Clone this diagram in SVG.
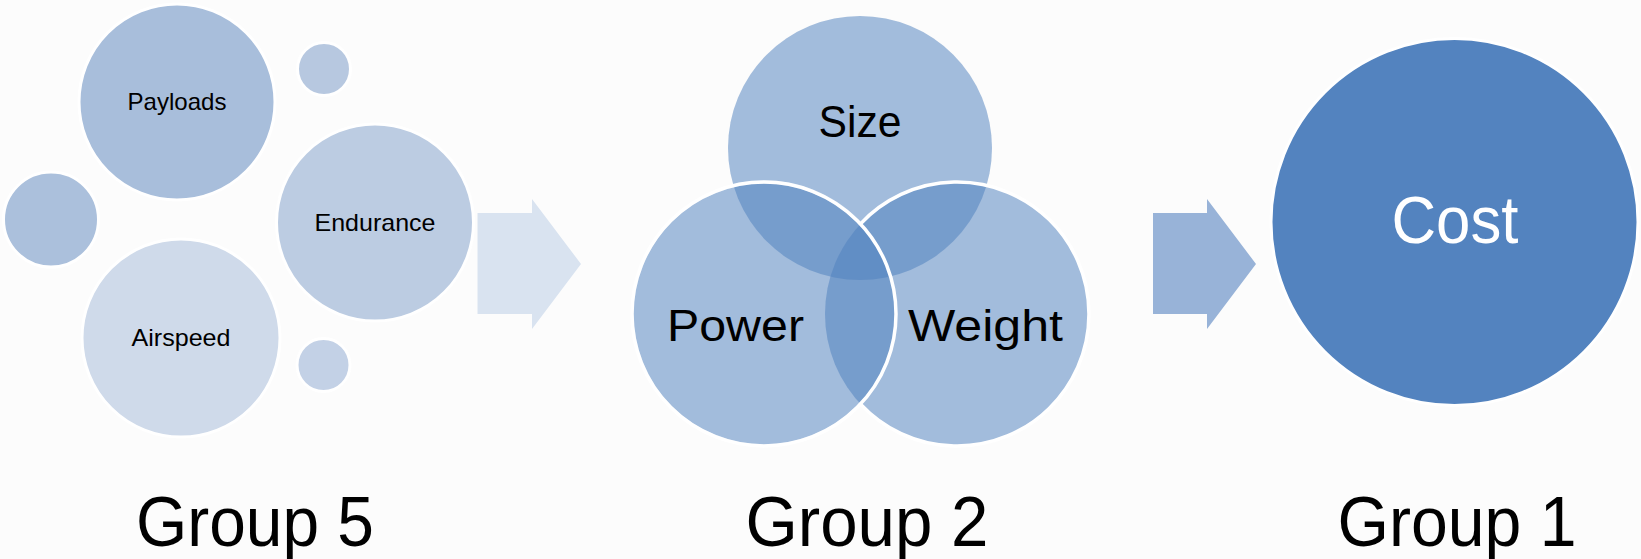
<svg xmlns="http://www.w3.org/2000/svg" width="1641" height="559" viewBox="0 0 1641 559">
  <style>
    .lbl { font-family: "Liberation Sans", Arial, sans-serif; fill: #000; text-anchor: middle; }
    .small { font-size: 24px; }
    .venn { font-size: 45px; }
    .grp { font-size: 71px; }
    .cost { font-family: "Liberation Sans", Arial, sans-serif; font-size: 66px; fill: #fff; text-anchor: middle; }
    .bub { stroke: #fff; stroke-width: 3; }
    .vfill { fill: #4f81bd; fill-opacity: 0.52; }
    .wline { fill: none; stroke: #fff; stroke-width: 3.5; }
  </style>
  <rect width="1641" height="559" fill="#fcfcfc"/>

  <g id="group5">
    <g id="node-payloads">
      <circle class="bub" cx="177" cy="102" r="98" fill="#a8bedb"/>
      <text class="lbl small" x="177" y="110" textLength="99" lengthAdjust="spacingAndGlyphs">Payloads</text>
    </g>
    <g id="node-small-top">
      <circle class="bub" cx="324" cy="69" r="26.5" fill="#b7c8e0"/>
    </g>
    <g id="node-small-left">
      <circle class="bub" cx="51" cy="219.5" r="47.5" fill="#abc0dc"/>
    </g>
    <g id="node-endurance">
      <circle class="bub" cx="375" cy="222.5" r="98.5" fill="#bccce2"/>
      <text class="lbl small" x="375" y="231" textLength="121" lengthAdjust="spacingAndGlyphs">Endurance</text>
    </g>
    <g id="node-airspeed">
      <circle class="bub" cx="181" cy="338" r="99" fill="#cfdaea"/>
      <text class="lbl small" x="181" y="346" textLength="99" lengthAdjust="spacingAndGlyphs">Airspeed</text>
    </g>
    <g id="node-small-bottom">
      <circle class="bub" cx="323.5" cy="365" r="26.5" fill="#c3d1e6"/>
    </g>
  </g>

  <g id="group2">
    <g id="node-size">
      <circle class="vfill" cx="860" cy="148" r="132"/>
    </g>
    <g id="node-weight">
      <circle class="vfill" cx="957" cy="314" r="132"/>
    </g>
    <g id="node-power">
      <circle class="vfill" cx="764" cy="314" r="132"/>
    </g>
    <path class="wline" d="M 860.5 223.9 A 132 132 0 1 0 860.5 404.1" stroke-opacity="0.25"/>
    <path class="wline" d="M 860.5 223.9 A 132 132 0 1 1 860.5 404.1"/>
    <circle class="wline" cx="764" cy="314" r="132"/>
    <text class="lbl venn" x="860" y="137" textLength="83" lengthAdjust="spacingAndGlyphs">Size</text>
    <text class="lbl venn" x="735.5" y="341" textLength="137" lengthAdjust="spacingAndGlyphs">Power</text>
    <text class="lbl venn" x="985.5" y="341" textLength="155" lengthAdjust="spacingAndGlyphs">Weight</text>
  </g>

  <g id="group1">
    <g id="node-cost">
      <circle class="bub" cx="1454.5" cy="222" r="183.5" fill="#5383bf"/>
      <text class="cost" x="1455" y="243" textLength="127" lengthAdjust="spacingAndGlyphs">Cost</text>
    </g>
  </g>

  <g id="connectors">
    <polygon points="477.5,213 532,213 532,199 581,264 532,329 532,314 477.5,314" fill="#d9e3f0"/>
    <polygon points="1153,213 1207,213 1207,199 1256,264 1207,329 1207,314 1153,314" fill="#98b3d8"/>
  </g>

  <g id="captions">
    <text class="lbl grp" x="255" y="546" textLength="238" lengthAdjust="spacingAndGlyphs">Group 5</text>
    <text class="lbl grp" x="867" y="546" textLength="243" lengthAdjust="spacingAndGlyphs">Group 2</text>
    <text class="lbl grp" x="1457" y="546" textLength="239" lengthAdjust="spacingAndGlyphs">Group 1</text>
  </g>
</svg>
